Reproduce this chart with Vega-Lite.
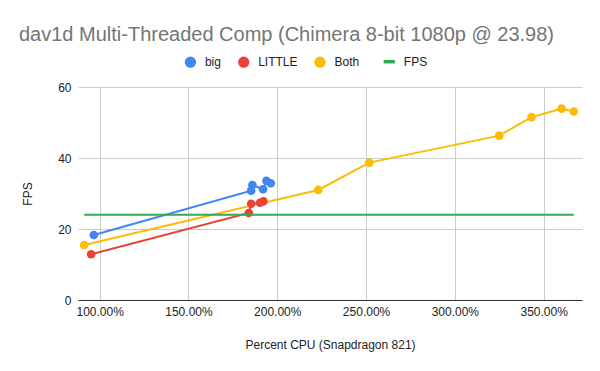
{
  "$schema": "https://vega.github.io/schema/vega-lite/v6.json",
  "width": 504,
  "height": 213,
  "autosize": "none",
  "padding": {"left": 78, "top": 87, "right": 18, "bottom": 71},
  "background": "white",
  "title": {
    "text": "dav1d Multi-Threaded Comp (Chimera 8-bit 1080p @ 23.98)",
    "anchor": "start",
    "frame": "group",
    "dx": -59,
    "font": "Liberation Sans",
    "fontSize": 20,
    "fontWeight": "normal",
    "color": "#757575",
    "offset": 11
  },
  "config": {
    "view": {"stroke": null},
    "font": "Liberation Sans",
    "axis": {
      "labelFont": "Liberation Sans",
      "titleFont": "Liberation Sans",
      "labelFontSize": 12,
      "titleFontSize": 12,
      "titleFontWeight": "normal",
      "labelColor": "#222",
      "titleColor": "#222",
      "gridColor": "#cccccc",
      "gridWidth": 1,
      "ticks": false
    }
  },
  "data": {
    "values": [
      {"series": "big", "cpu": 0.967, "fps": 18.3},
      {"series": "big", "cpu": 1.853, "fps": 30.8},
      {"series": "big", "cpu": 1.860, "fps": 32.4},
      {"series": "big", "cpu": 1.920, "fps": 31.2},
      {"series": "big", "cpu": 1.939, "fps": 33.6},
      {"series": "big", "cpu": 1.963, "fps": 32.9},
      {"series": "LITTLE", "cpu": 0.952, "fps": 12.9},
      {"series": "LITTLE", "cpu": 1.840, "fps": 24.5},
      {"series": "LITTLE", "cpu": 1.853, "fps": 27.1},
      {"series": "LITTLE", "cpu": 1.903, "fps": 27.4},
      {"series": "LITTLE", "cpu": 1.922, "fps": 27.8},
      {"series": "Both", "cpu": 0.913, "fps": 15.5},
      {"series": "Both", "cpu": 2.231, "fps": 31.0},
      {"series": "Both", "cpu": 2.518, "fps": 38.7},
      {"series": "Both", "cpu": 3.250, "fps": 46.3},
      {"series": "Both", "cpu": 3.432, "fps": 51.5},
      {"series": "Both", "cpu": 3.601, "fps": 53.9},
      {"series": "Both", "cpu": 3.670, "fps": 53.1},
      {"series": "FPS", "cpu": 0.913, "fps": 23.98},
      {"series": "FPS", "cpu": 3.670, "fps": 23.98}
    ]
  },
  "encoding": {
    "x": {
      "field": "cpu",
      "type": "quantitative",
      "scale": {"domain": [0.878, 3.716], "nice": false, "zero": false},
      "axis": {
        "title": "Percent CPU (Snapdragon 821)",
        "format": ".2%",
        "values": [1, 1.5, 2, 2.5, 3, 3.5],
        "domainColor": "#333333",
        "domainWidth": 1,
        "labelPadding": 6,
        "titlePadding": 22
      }
    },
    "y": {
      "field": "fps",
      "type": "quantitative",
      "scale": {"domain": [0, 60], "nice": false},
      "axis": {
        "title": "FPS",
        "values": [0, 20, 40, 60],
        "domain": false,
        "labelPadding": 7,
        "titlePadding": 23
      }
    },
    "color": {
      "field": "series",
      "type": "nominal",
      "scale": {
        "domain": ["big", "LITTLE", "Both", "FPS"],
        "range": ["#4285F4", "#EA4335", "#FBBC04", "#34A853"]
      },
      "legend": {
        "orient": "none",
        "legendX": 106.4,
        "legendY": -31.3,
        "direction": "horizontal",
        "title": null,
        "symbolSize": 128,
        "labelFont": "Liberation Sans",
        "labelFontSize": 12,
        "labelColor": "#222",
        "labelOffset": 8.5,
        "columnPadding": 16.3,
        "padding": 0,
        "encode": {
          "symbols": {
            "update": {
              "shape": {"signal": "datum.value === 'FPS' ? 'stroke' : 'circle'"},
              "stroke": {"signal": "scale('color', datum.value)"},
              "strokeWidth": {"signal": "datum.value === 'FPS' ? 3.5 : 0"},
              "fill": {"signal": "scale('color', datum.value)"},
              "opacity": {"value": 1}
            }
          }
        }
      }
    }
  },
  "layer": [
    {
      "transform": [{"filter": "datum.series !== 'FPS'"}],
      "mark": {"type": "line", "strokeWidth": 2, "point": {"filled": true, "size": 75, "opacity": 1}}
    },
    {
      "transform": [{"filter": "datum.series === 'FPS'"}],
      "mark": {"type": "line", "strokeWidth": 2}
    }
  ]
}
